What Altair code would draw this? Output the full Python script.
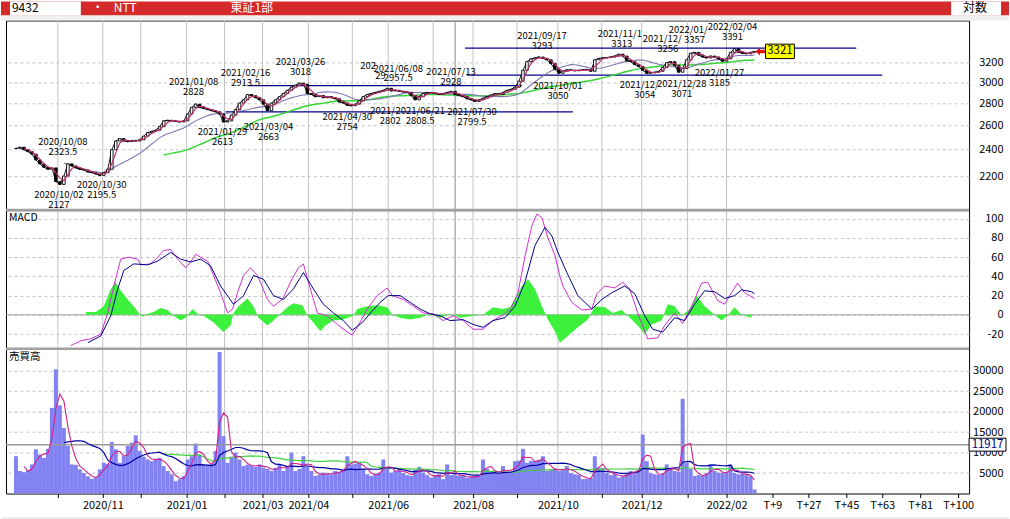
import altair as alt
import pandas as pd

FONT = "Noto Sans CJK JP"
W = 965
H_P, H_M, H_V = 190, 139, 145

# ---------------- data (one point every 2 trading days) ----------------
close = [2410, 2420, 2400, 2385, 2365, 2320, 2290, 2265, 2250, 2260,
         2160, 2140, 2200, 2290, 2275, 2260, 2250, 2245, 2230, 2225,
         2215, 2205, 2225, 2250, 2400, 2470, 2490, 2470, 2465, 2475,
         2470, 2480, 2510, 2540, 2550, 2560, 2590, 2640, 2645, 2640,
         2635, 2630, 2640, 2700, 2760, 2790, 2760, 2750, 2740, 2730,
         2720, 2700, 2630, 2640, 2690, 2740, 2800, 2830, 2880, 2870,
         2850, 2830, 2790, 2730, 2800, 2830, 2860, 2890, 2920, 2950,
         2970, 2990, 2980, 2890, 2880, 2860, 2870, 2850, 2860, 2850,
         2840, 2810, 2800, 2780, 2775, 2790, 2820, 2860, 2880, 2890,
         2900, 2910, 2920, 2940, 2915, 2920, 2910, 2905, 2900, 2870,
         2830, 2860, 2890, 2900, 2895, 2890, 2880, 2890, 2900, 2910,
         2880, 2870, 2860, 2840, 2830, 2815, 2830, 2845, 2860, 2875,
         2890, 2880, 2900, 2920, 2930, 2950, 3010, 3120, 3210, 3240,
         3250, 3260, 3245, 3230, 3190, 3130, 3090, 3110, 3125, 3120,
         3115, 3120, 3125, 3130, 3110, 3230, 3245, 3250, 3255, 3260,
         3270, 3290, 3270, 3220, 3210, 3180, 3160, 3120, 3090, 3095,
         3100, 3110, 3150, 3200, 3210, 3170, 3100, 3140, 3230, 3300,
         3310, 3280, 3260, 3250, 3270, 3260, 3240, 3215, 3240, 3310,
         3350, 3310, 3300, 3295, 3310, 3321]

volume = [9100, 5500, 5200, 5600, 7100, 10800, 9500, 8700, 10900, 20900,
          30300, 21500, 16000, 11600, 7100, 7000, 5900, 5000, 4200, 3600,
          4000, 5900, 7500, 7200, 12600, 10800, 7500, 9100, 11600, 12400,
          14200, 10400, 9000, 8300, 7900, 8500, 8700, 6700, 5500, 4700,
          3000, 3500, 4300, 8300, 9100, 12200, 9500, 7100, 7100, 7300,
          10400, 34500, 14000, 7500, 9000, 10000, 8300, 6700, 7000, 6800,
          6500, 7100, 6300, 6000, 5500, 6300, 7100, 5500, 6500, 10000,
          5500, 6000, 9100, 6500, 5500, 4300, 4600, 5100, 4800, 4700,
          5500, 5300, 6000, 9100, 7100, 7300, 7500, 6000, 4700, 4300,
          4800, 5100, 8300, 6000, 5100, 5500, 5900, 5000, 4500, 4300,
          5800, 6500, 5100, 4500, 3900, 4500, 4700, 3500, 7100, 4500,
          4700, 4300, 4300, 3900, 4000, 4300, 4400, 8300, 6000, 5500,
          5100, 5000, 6700, 5100, 5300, 7900, 8000, 10900, 7500, 8000,
          7900, 8200, 9100, 5500, 5800, 6200, 5500, 5700, 6700, 5000,
          4700, 4500, 3500, 3600, 3700, 9100, 6300, 6200, 5000, 4500,
          4800, 3900, 4200, 5000, 5500, 5300, 5800, 14400, 7900, 5000,
          4700, 4600, 4800, 7100, 5800, 5500, 5300, 23100, 7500, 6000,
          4300, 4500, 4300, 5000, 7100, 5500, 5100, 5000, 5200, 7100,
          5000, 4700, 4800, 4500, 4200, 1000]

macd_d = [27.5, 32.5, 37.5, 42.5, 46, 49, 52.5, 56.5, 61, 62.5, 67.5, 71, 74, 77.5, 81, 85,
          87.5, 90, 92.5, 96, 99, 102.5, 106, 108.5, 111, 114, 117.5, 121, 126, 129, 133.5,
          137.5, 141.5, 144, 146.5, 151, 156, 161, 166, 168.5, 171.5, 176, 181, 186, 188.5,
          194, 199, 204, 209, 214, 219, 224, 229, 234, 239, 245, 248.5, 251.5, 255, 258.5,
          261, 263.5, 266.5, 270, 272.5, 274, 278.5, 283.5, 288.5, 291, 295, 300, 304, 307.5,
          311.5, 316.5, 321.5, 325, 330, 334, 338.5, 343.5, 346.5, 351.5, 355, 358.5, 361.5,
          365, 370]
macd_v = [-32, -27, -25, -20, 2, 30, 58, 60, 58, 52, 53, 60, 67, 68, 58, 49,
          55, 63, 60, 56, 41, 23, 2, 6, 23, 41, 49, 41, 16, 9, 16,
          34, 49, 53, 34, 2, -1, -10, -18, -21, -11, 6, 20, 28, 20,
          16, 9, 2, 1, -6, -1, -6, -15, -15, -6, 1, 9, 23, 61, 93,
          105, 101, 80, 62, 40, 30, 13, 5, 6, 22, 30, 28, 34, 27,
          2, -25, -24, -11, 2, -9, 9, 33, 34, 15, 11, 23, 33,
          23, 17]

sig_d = [36, 42.5, 47.5, 51, 54, 59, 66, 71, 77.5, 82.5, 87.5, 92.5, 97.5, 102.5, 109, 114,
         119, 124, 129, 134, 139, 144, 149, 154, 159, 164, 168.5, 173.5, 178.5, 182.5, 186.5,
         192.5, 197.5, 202.5, 207.5, 212.5, 217.5, 224, 229, 234, 239, 245, 250, 255, 260, 265,
         268.5, 271.5, 276, 281.5, 288.5, 293.5, 298.5, 305, 310, 315, 319, 324, 330, 335, 340,
         345, 350, 355, 360, 363.5, 368.5, 370]
sig_v = [-29, -22, -1, 27, 46, 53, 52, 56, 65, 58, 55, 58, 51, 30, 11, 20,
         41, 37, 20, 16, 27, 44, 27, 11, 2, -6, -16, -8, 4, 13, 20,
         20, 13, 6, 1, -1, -6, -5, -10, -13, -6, -3, 9, 34, 72, 91,
         82, 65, 44, 20, 6, 16, 23, 30, 22, -1, -15, -18, -3, -6, 11,
         25, 24, 17, 20, 26, 24, 22]

hist_d = [35, 40, 44, 47.5, 50, 52.5, 56, 59, 61.5, 63.5, 66, 69, 72.5, 76, 79,
          82.5, 85, 88.5, 91, 94, 99, 104, 107.5, 109, 111.5, 116, 119, 121.5, 126, 129,
          132.5, 136, 139, 143.5, 146, 149, 152.5, 155, 159, 164, 169, 171, 176, 181, 186,
          188.5, 192.5, 197.5, 202.5, 207.5, 212.5, 217.5, 222.5, 229, 234, 239, 244, 247.5,
          253.5, 256.5, 260, 263.5, 266.5, 270, 272.5, 276.5, 281.5, 286.5, 290, 295, 299,
          303.5, 306.5, 311.5, 315, 318.5, 323.5, 326.5, 330, 333.5, 337.5, 341, 345, 350,
          353.5, 356.5, 360, 363.5, 368.5]
hist_v = [3, 3, 9, 27, 34, 25, 16, 9, 2, -2, 1, 3, 7, 5, -1,
          -6, -3, 6, 1, -1, -8, -18, -11, 2, 9, 17, 9, -3, -11, -6,
          1, 8, 12, 10, -1, -8, -17, -11, -6, -5, -1, 6, 9, 10, 8,
          0, -3, -5, -3, 1, -3, 1, -3, -1, 0, 8, 6, 8,
          30, 37, 27, 9, -5, -17, -29, -22, -13, -5, 9, 8, 2,
          5, -1, -11, -20, -10, -6, 11, 9, -1, 6, 20, 9, 0,
          -6, -1, 8, 0, -3]

month_d = [21, 43.5, 62.5, 85.5, 104.5, 123.5, 146.5, 168.5, 186.5, 209, 229, 251, 271.5,
           293.5, 313.5, 336.5, 356]
month_lbl = ["2020/10", "2020/11", "2020/12", "2021/01", "2021/02", "2021/03", "2021/04",
             "2021/05", "2021/06", "2021/07", "2021/08", "2021/09", "2021/10", "2021/11",
             "2021/12", "2022/01", "2022/02"]
shown_lbl = ["2020/11", "2021/01", "2021/03", "2021/04", "2021/06", "2021/08", "2021/10",
             "2021/12", "2022/02"]
fut_d = [379, 397, 416, 434, 453, 472]
fut_lbl = ["T+9", "T+27", "T+45", "T+63", "T+81", "T+100"]
sep_d = [220]

sup_p = [3357, 3071, 2965, 2720]
sup_d0 = [225, 226, 116, 105]
sup_d1 = [421, 434, 253.5, 279]

hi_d = [23.5, 89, 115, 142.5, 191.5, 218, 263.5, 303.5, 326.5, 340, 359]
hi_p = [2323.5, 2828, 2913.5, 3018, 2957.5, 2928, 3293, 3313, 3256, 3357, 3391]
hi_date = ["2020/10/08", "2021/01/08", "2021/02/16", "2021/03/26", "2021/06/08", "2021/07/13",
           "2021/09/17", "", "", "", "2022/02/04"]
hi_val = ["2323.5", "2828", "2913.5", "3018", "2957.5", "2928", "3293", "3313", "3256", "3357", "3391"]

hf_d = [172.5, 291.5, 314, 327]
hf_p = [2985, 3313, 3256, 3357]
hf_text = ["202", "2021/11/1", "2021/12/", "2022/01/"]
hvf_d = [180]
hvf_p = [2985]
hvf_text = ["29"]

lo_d = [21.5, 43, 103.5, 126.5, 166, 187.5, 202.5, 228.5, 271.5, 315, 333.5, 352.5]
lo_p = [2127, 2195.5, 2613, 2663, 2754, 2802, 2808.5, 2799.5, 3050, 3054, 3071, 3185]
lo_date = ["2020/10/02", "2020/10/30", "2021/01/29", "2021/03/04", "2021/04/30", "", "2021/06/21",
           "2021/07/30", "2021/10/01", "", "2021/12/28", "2022/01/27"]
lo_val = ["2127", "2195.5", "2613", "2663", "2754", "2802", "2808.5", "2799.5", "3050", "3054",
          "3071", "3185"]
lf_d = [177.5, 302.5]
lf_p = [2802, 3054]
lf_text = ["2021/", "2021/12/"]

avg_volume = 11917

# ---------------- tables ----------------
df = pd.DataFrame({"d": [2 * j for j in range(len(close))], "c": close, "v": volume})
month_df = pd.DataFrame({"d": month_d})
sep_df = pd.DataFrame({"d": sep_d})
sup_df = pd.DataFrame({"p": sup_p, "d0": sup_d0, "d1": sup_d1})
hi_df = pd.DataFrame({"d": hi_d, "p": hi_p, "date": hi_date, "val": hi_val})
lo_df = pd.DataFrame({"d": lo_d, "p": lo_p, "date": lo_date, "val": lo_val})
hf_df = pd.DataFrame({"d": hf_d, "p": hf_p, "t": hf_text})
hvf_df = pd.DataFrame({"d": hvf_d, "p": hvf_p, "t": hvf_text})
lf_df = pd.DataFrame({"d": lf_d, "p": lf_p, "t": lf_text})
macd_df = pd.DataFrame({"d": macd_d, "m": macd_v})
sig_df = pd.DataFrame({"d": sig_d, "s": sig_v})
hist_df = pd.DataFrame({"d": hist_d, "h": hist_v})
last_df = pd.DataFrame({"p": [close[-1]], "t": [str(close[-1])]})
avg_df = pd.DataFrame({"v": [avg_volume], "t": [str(avg_volume)]})
zero_df = pd.DataFrame({"z": [0]})
blank = alt.Data(values=[{"k": 0}])

# ---------------- scales / axes ----------------
xs = alt.Scale(domain=[-5, 477.5], nice=False, zero=False)
ys_p = alt.Scale(type="log", domain=[1966, 3678], nice=False, zero=False)
ys_m = alt.Scale(domain=[-35.4, 109], nice=False, zero=False)
ys_v = alt.Scale(domain=[0, 35300], nice=False, zero=False)


def yaxis(vals):
    return alt.Axis(orient="right", values=vals, title=None, ticks=False, tickSize=0, domain=False,
                    labelAlign="right", labelPadding=34, labelFontSize=11, labelFont=FONT,
                    labelColor="black", labelExpr="datum.value", labelOverlap=False,
                    grid=True, gridColor="#c4c4c4", gridDash=[3, 3], gridWidth=1)


yax_p = yaxis([2200, 2400, 2600, 2800, 3000, 3200])
yax_m = yaxis([-20, 0, 20, 40, 60, 80, 100])
yax_v = yaxis([5000, 10000, 15000, 20000, 25000, 30000])

lbl_map = {d: l for d, l in zip(month_d, month_lbl) if l in shown_lbl}
lbl_map.update(dict(zip(fut_d, fut_lbl)))
expr = "''"
for v, l in lbl_map.items():
    expr = f"datum.value == {v} ? '{l}' : ({expr})"
xax_v = alt.Axis(orient="bottom", values=month_d + fut_d, labelExpr=expr, title=None,
                 ticks=True, tickSize=4, tickColor="black", domain=False, grid=False,
                 labelFontSize=11, labelFont=FONT, labelColor="black", labelPadding=2,
                 labelOverlap=False, labelFlush=False)


def vgrid(h, xax):
    m = alt.Chart(month_df).mark_rule(color="#c2c2c2", strokeWidth=1).encode(
        x=alt.X("d:Q", scale=xs, axis=xax), y=alt.value(0), y2=alt.value(h))
    s = alt.Chart(sep_df).mark_rule(color="#8a8a8a", strokeWidth=1).encode(
        x=alt.X("d:Q", scale=xs, axis=xax), y=alt.value(0), y2=alt.value(h))
    return [m, s]


def ma_line(field, frame, first, color, width, ys, yax, xax):
    return alt.Chart(df).transform_window(
        ma=f"mean({field})", frame=frame, sort=[alt.SortField("d")]
    ).transform_filter(f"datum.d >= {first}").mark_line(color=color, strokeWidth=width).encode(
        x=alt.X("d:Q", scale=xs, axis=xax), y=alt.Y("ma:Q", scale=ys, axis=yax))


def vtxt(txt, x, y, color="black", size=10.5, align="left"):
    return alt.Chart(blank).mark_text(text=txt, align=align, baseline="middle", font=FONT,
                                      fontSize=size, color=color).encode(
        x=alt.value(x), y=alt.value(y))


def vrect(x0, x1, y0, y1, color):
    return alt.Chart(blank).mark_rect(color=color).encode(
        x=alt.value(x0), x2=alt.value(x1), y=alt.value(y0), y2=alt.value(y1))


# ---------------- price panel ----------------
P = [*vgrid(H_P, None)]
P.append(alt.Chart(sup_df).mark_rule(color="#00008a", strokeWidth=1.3).encode(
    x=alt.X("d0:Q", scale=xs, axis=None), x2="d1:Q", y=alt.Y("p:Q", scale=ys_p, axis=yax_p)))
P.append(ma_line("c", [-37, 0], 74, "#33d633", 1.5, ys_p, yax_p, None))
P.append(ma_line("c", [-12, 0], 24, "#8078b4", 1.1, ys_p, yax_p, None))
# thin close path beneath the candle bodies
P.append(alt.Chart(df).mark_line(color="black", strokeWidth=0.9).encode(
    x=alt.X("d:Q", scale=xs, axis=None), y=alt.Y("c:Q", scale=ys_p, axis=yax_p)))
P.append(alt.Chart(df).transform_window(
    prev="lag(c)", sort=[alt.SortField("d")]
).transform_calculate(
    o="datum.prev == null ? datum.c : datum.prev", x0="datum.d - 0.65", x1="datum.d + 0.65"
).mark_rect(stroke="black", strokeWidth=0.9).encode(
    x=alt.X("x0:Q", scale=xs, axis=None), x2="x1:Q",
    y=alt.Y("o:Q", scale=ys_p, axis=yax_p), y2="c:Q",
    fill=alt.condition("datum.c >= datum.o", alt.value("white"), alt.value("black"))))
P.append(ma_line("c", [-2, 0], 4, "#c0306e", 1.2, ys_p, yax_p, None))


def ann(data, field, dy, align="center"):
    return alt.Chart(data).mark_text(dy=dy, align=align, baseline="middle", font=FONT,
                                     fontSize=9.5, color="black").encode(
        x=alt.X("d:Q", scale=xs, axis=None), y=alt.Y("p:Q", scale=ys_p, axis=yax_p),
        text=f"{field}:N")


P += [ann(hi_df, "date", -18), ann(hi_df, "val", -8), ann(hf_df, "t", -18, "left"),
      ann(hvf_df, "t", -8, "left"),
      ann(lo_df, "date", 8.5), ann(lo_df, "val", 18.5), ann(lf_df, "t", 8.5, "left")]

arrow = "M-1,0L-0.1,-0.8L-0.1,-0.35L1,-0.35L1,0.35L-0.1,0.35L-0.1,0.8Z"
P.append(alt.Chart(last_df).mark_point(shape=arrow, filled=True, color="#e01010", size=100,
                                       opacity=1).encode(
    x=alt.value(756), y=alt.Y("p:Q", scale=ys_p, axis=yax_p)))
P.append(alt.Chart(last_df).mark_point(shape="M-1,-0.5L1,-0.5L1,0.5L-1,0.5Z", filled=True,
                                       fill="#ffff00", stroke="black", strokeWidth=1,
                                       size=841, opacity=1).encode(
    x=alt.value(775.5), y=alt.Y("p:Q", scale=ys_p, axis=yax_p)))
P.append(alt.Chart(last_df).mark_text(font=FONT, fontSize=11.5, color="black",
                                      baseline="middle").encode(
    x=alt.value(775.5), y=alt.Y("p:Q", scale=ys_p, axis=yax_p), text="t:N"))

# header band
P += [vrect(-5, 1005, -19, -5, "#d42a2a"), vrect(-5, 1005, -5, 0, "#f0f0f0"),
      vrect(4, 75, -19, -5, "#ffffff"), vrect(947, 997, -19, -5, "#ffffff"),
      vtxt("9432", 6, -12, "black", 12), vtxt("・", 92, -12, "white", 12, "center"),
      vtxt("NTT", 108, -12, "white", 12), vtxt("東証1部", 225, -12, "white", 12),
      vtxt("対数", 971, -12, "black", 12, "center")]

price = alt.layer(*P).properties(width=W, height=H_P)

# ---------------- MACD panel ----------------
M = [*vgrid(H_M, None)]
M.append(alt.Chart(zero_df).mark_rule(color="#a0a0a0", strokeWidth=1).encode(
    y=alt.Y("z:Q", scale=ys_m, axis=yax_m), x=alt.value(0), x2=alt.value(W)))
M.append(alt.Chart(hist_df).transform_calculate(zero="0").mark_area(
    color="#3cf03c", opacity=1, interpolate="linear").encode(
    x=alt.X("d:Q", scale=xs, axis=None), y=alt.Y("h:Q", scale=ys_m, axis=yax_m), y2="zero:Q"))
M.append(alt.Chart(macd_df).mark_line(color="#d030d0", strokeWidth=1).encode(
    x=alt.X("d:Q", scale=xs, axis=None), y=alt.Y("m:Q", scale=ys_m, axis=yax_m)))
M.append(alt.Chart(sig_df).mark_line(color="#00008b", strokeWidth=1).encode(
    x=alt.X("d:Q", scale=xs, axis=None), y=alt.Y("s:Q", scale=ys_m, axis=yax_m)))
M.append(vtxt("MACD", 3, 8, "black", 10.5))
M.append(alt.Chart(blank).mark_rule(color="#a0a0a0", strokeWidth=2.5).encode(
    x=alt.value(0), x2=alt.value(W), y=alt.value(0)))
macd = alt.layer(*M).properties(width=W, height=H_M)

# ---------------- volume panel ----------------
V = [*vgrid(H_V, xax_v)]
V.append(alt.Chart(df).transform_calculate(
    x0="datum.d - 1", x1="datum.d + 1", zero="0").mark_rect(color="#8282f2").encode(
    x=alt.X("x0:Q", scale=xs, axis=xax_v), x2="x1:Q",
    y=alt.Y("v:Q", scale=ys_v, axis=yax_v), y2="zero:Q"))
V.append(alt.Chart(avg_df).mark_rule(color="#9a9a9a", strokeWidth=1.5).encode(
    y=alt.Y("v:Q", scale=ys_v, axis=yax_v), x=alt.value(0), x2=alt.value(W)))
V.append(ma_line("v", [-37, 0], 74, "#40d040", 1.2, ys_v, yax_v, xax_v))
V.append(ma_line("v", [-12, 0], 24, "#0000a0", 1.2, ys_v, yax_v, xax_v))
V.append(ma_line("v", [-2, 0], 4, "#d0208a", 1.1, ys_v, yax_v, xax_v))
V.append(alt.Chart(avg_df).mark_point(shape="M-1,-0.35L1,-0.35L1,0.35L-1,0.35Z", filled=True,
                                      fill="white", stroke="black", strokeWidth=1, size=1369,
                                      opacity=1).encode(
    x=alt.value(983.5), y=alt.Y("v:Q", scale=ys_v, axis=yax_v)))
V.append(alt.Chart(avg_df).mark_text(font=FONT, fontSize=11.5, color="#000080",
                                     baseline="middle").encode(
    x=alt.value(983.5), y=alt.Y("v:Q", scale=ys_v, axis=yax_v), text="t:N"))
V.append(vtxt("売買高", 3, 8, "black", 10.5))
V.append(alt.Chart(blank).mark_rule(color="#a0a0a0", strokeWidth=2.5).encode(
    x=alt.value(0), x2=alt.value(W), y=alt.value(0)))
V.append(vrect(-5, 1005, 169, 171, "#e8e8e8"))
vol = alt.layer(*V).properties(width=W, height=H_V)

chart = alt.vconcat(price, macd, vol, spacing=0, bounds="flush").properties(
    padding=0, background="white"
).configure_view(stroke="black", strokeWidth=1)

chart.save("out.html", embed_options={"renderer": "svg", "actions": False})
